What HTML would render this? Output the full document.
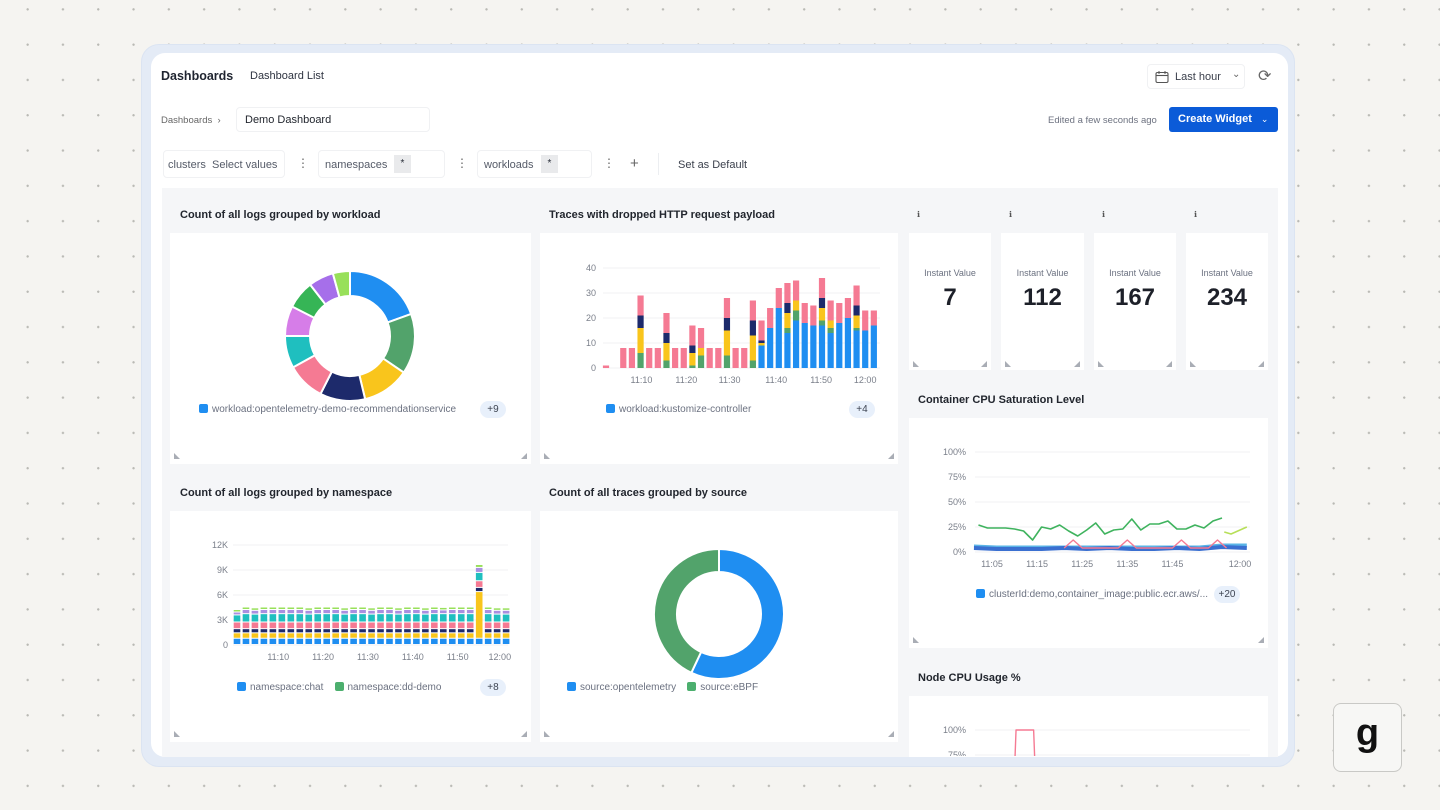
<!DOCTYPE html>
<html><head><meta charset="utf-8">
<style>
*{box-sizing:border-box;margin:0;padding:0}
body{width:1440px;height:810px;overflow:hidden;background:#f5f4f1;font-family:"Liberation Sans",sans-serif;color:#1f2430;position:relative}
.abs{position:absolute}
.dots{position:absolute;inset:0;background-image:radial-gradient(circle,#b9b9b4 1px,transparent 1.3px);background-size:35.3px 35.3px;background-position:10px 27px}
.frame{left:141px;top:44px;width:1154px;height:723px;border-radius:18px;background:#e4ebf6;border:1px solid #dbe4f2}
.card{left:151px;top:53px;width:1137px;height:704px;border-radius:14px;background:#fff;overflow:hidden}
.t{position:absolute;white-space:nowrap}
.box{position:absolute;border:1px solid #f0f1f3;border-radius:4px;background:#fff}
.grid{left:162px;top:188px;width:1116px;height:569px;background:#f5f6f8}
.white{position:absolute;background:#fff}
.ptitle{position:absolute;font-size:11px;font-weight:bold;color:#22262e}
.leg{position:absolute;font-size:10px;color:#6b7180;white-space:nowrap}
.sq{display:inline-block;width:9px;height:9px;border-radius:2px;vertical-align:-1px;margin-right:4px}
.pill{position:absolute;font-size:10px;color:#3d4452;background:#e8f0fb;border-radius:9px;width:26px;height:17px;text-align:center;line-height:17px}
.badge{position:absolute;background:#e9eaec;font-size:10px;width:17px;height:18px;text-align:center;line-height:18px;top:155px}
.num{position:absolute;text-align:center;font-size:24px;font-weight:bold;color:#1d2029;top:284px}
</style></head><body>
<div class="dots"></div>
<div class="abs frame"></div>
<div class="abs card"></div>

<div class="t" style="left:161px;top:69px;font-size:12.5px;font-weight:bold">Dashboards</div>
<div class="t" style="left:250px;top:70px;font-size:11px;color:#2e3340">Dashboard List</div>
<div class="box" style="left:1147px;top:64px;width:98px;height:25px">
<svg class="abs" style="left:7px;top:5px" width="14" height="14" viewBox="0 0 14 14"><rect x="1" y="2.5" width="12" height="10" rx="1.5" fill="none" stroke="#555" stroke-width="1.1"/><line x1="1" y1="5.5" x2="13" y2="5.5" stroke="#555" stroke-width="1.1"/><line x1="4" y1="1" x2="4" y2="4" stroke="#555"/><line x1="10" y1="1" x2="10" y2="4" stroke="#555"/></svg>
<span class="t" style="left:27px;top:6px;font-size:11px;color:#3b404c">Last hour</span>
<span class="t" style="left:84px;top:4px;font-size:10px;color:#666">⌄</span></div>
<div class="t" style="left:1258px;top:66px;font-size:16px;color:#666">⟳</div>

<div class="t" style="left:161px;top:115px;font-size:9.5px;color:#666">Dashboards &nbsp;›</div>
<div class="box" style="left:236px;top:107px;width:194px;height:25px"><span class="t" style="left:8px;top:6px;font-size:11px;color:#22262e">Demo Dashboard</span></div>
<div class="t" style="left:1048px;top:115px;font-size:9.5px;color:#6d7280">Edited a few seconds ago</div>
<div class="abs" style="left:1169px;top:107px;width:109px;height:25px;background:#0b5bd8;border-radius:3px;color:#fff;font-size:11px;font-weight:bold;line-height:25px;padding-left:9px">Create Widget <span style="font-weight:normal;font-size:9px;margin-left:6px">⌄</span></div>

<div class="box" style="left:163px;top:150px;width:122px;height:28px"><span class="t" style="left:4px;top:8px;font-size:11px;color:#555b68">clusters &nbsp;Select values</span></div>
<div class="t" style="left:297px;top:156px;font-size:12px;color:#666">⋮</div>
<div class="box" style="left:318px;top:150px;width:127px;height:28px"><span class="t" style="left:6px;top:8px;font-size:11px;color:#555b68">namespaces</span></div>
<div class="badge" style="left:394px">*</div>
<div class="t" style="left:456px;top:156px;font-size:12px;color:#666">⋮</div>
<div class="box" style="left:477px;top:150px;width:115px;height:28px"><span class="t" style="left:6px;top:8px;font-size:11px;color:#555b68">workloads</span></div>
<div class="badge" style="left:541px">*</div>
<div class="t" style="left:603px;top:156px;font-size:12px;color:#666">⋮</div>
<div class="t" style="left:630px;top:155px;font-size:15px;color:#666">+</div>
<div class="abs" style="left:658px;top:153px;width:1px;height:22px;background:#eceef1"></div>
<div class="t" style="left:678px;top:159px;font-size:11px;color:#3b404c">Set as Default</div>

<div class="abs grid"></div>
<div class="white" style="left:170px;top:233px;width:361px;height:231px"></div>
<div class="white" style="left:540px;top:233px;width:358px;height:231px"></div>
<div class="white" style="left:909px;top:233px;width:82px;height:137px"></div>
<div class="white" style="left:1001px;top:233px;width:83px;height:137px"></div>
<div class="white" style="left:1094px;top:233px;width:82px;height:137px"></div>
<div class="white" style="left:1186px;top:233px;width:82px;height:137px"></div>
<div class="white" style="left:909px;top:418px;width:359px;height:230px"></div>
<div class="white" style="left:170px;top:511px;width:361px;height:231px"></div>
<div class="white" style="left:540px;top:511px;width:358px;height:231px"></div>
<div class="white" style="left:909px;top:696px;width:359px;height:61px"></div>

<div class="ptitle" style="left:180px;top:209px">Count of all logs grouped by workload</div>
<div class="ptitle" style="left:549px;top:209px">Traces with dropped HTTP request payload</div>
<div class="ptitle" style="left:180px;top:487px">Count of all logs grouped by namespace</div>
<div class="ptitle" style="left:549px;top:487px">Count of all traces grouped by source</div>
<div class="ptitle" style="left:918px;top:394px">Container CPU Saturation Level</div>
<div class="ptitle" style="left:918px;top:672px">Node CPU Usage %</div>

<div class="t" style="left:917px;top:210px;font-size:8px;color:#555">ℹ</div>
<div class="t" style="left:1009px;top:210px;font-size:8px;color:#555">ℹ</div>
<div class="t" style="left:1102px;top:210px;font-size:8px;color:#555">ℹ</div>
<div class="t" style="left:1194px;top:210px;font-size:8px;color:#555">ℹ</div>
<div class="t" style="left:909px;top:268px;width:82px;text-align:center;font-size:9px;color:#6b7180">Instant Value</div>
<div class="t" style="left:1001px;top:268px;width:83px;text-align:center;font-size:9px;color:#6b7180">Instant Value</div>
<div class="t" style="left:1094px;top:268px;width:82px;text-align:center;font-size:9px;color:#6b7180">Instant Value</div>
<div class="t" style="left:1186px;top:268px;width:82px;text-align:center;font-size:9px;color:#6b7180">Instant Value</div>
<div class="num" style="left:909px;width:82px">7</div>
<div class="num" style="left:1001px;width:83px">112</div>
<div class="num" style="left:1094px;width:82px">167</div>
<div class="num" style="left:1186px;width:82px">234</div>

<div class="leg" style="left:199px;top:404px"><span class="sq" style="background:#1f8ef1"></span>workload:opentelemetry-demo-recommendationservice</div>
<div class="pill" style="left:480px;top:401px">+9</div>
<div class="leg" style="left:606px;top:404px"><span class="sq" style="background:#1f8ef1"></span>workload:kustomize-controller</div>
<div class="pill" style="left:849px;top:401px">+4</div>
<div class="leg" style="left:237px;top:682px"><span class="sq" style="background:#1f8ef1"></span>namespace:chat &nbsp;&nbsp; <span class="sq" style="background:#4caf6e"></span>namespace:dd-demo</div>
<div class="pill" style="left:480px;top:679px">+8</div>
<div class="leg" style="left:567px;top:682px"><span class="sq" style="background:#1f8ef1"></span>source:opentelemetry &nbsp;&nbsp; <span class="sq" style="background:#4caf6e"></span>source:eBPF</div>
<div class="leg" style="left:976px;top:589px"><span class="sq" style="background:#1f8ef1"></span>clusterId:demo,container_image:public.ecr.aws/...</div>
<div class="pill" style="left:1214px;top:586px">+20</div>

<div class="abs" style="left:1333px;top:703px;width:69px;height:69px;border:1px solid #c9c9c6;border-radius:8px;background:#f7f7f5;text-align:center;font-size:38px;font-weight:bold;line-height:58px;color:#111">g</div>

<svg id="charts" class="abs" style="left:0;top:0" width="1440" height="810">
<defs><clipPath id="cardclip"><rect x="151" y="53" width="1137" height="703"/></clipPath></defs>
</svg>

<script>
// ---- workload donut ----
const wlCats=['recommendationservice','w2','w3','w4','w5','w6','w7','w8','w9','w10'];
const wlVals=[78,60,47,45,38,32,30,28,25,17];
const wlColors=['#1f8ef1','#52a36b','#f9c51c','#1d2a6b','#f57a93','#1fbfbf','#d67de8','#36b556','#a66fea','#98e05a'];
// ---- source donut ----
const srcCats=['opentelemetry','eBPF'];
const srcVals=[57,43];
const srcColors=['#1f8ef1','#52a36b'];
// ---- dropped traces stacked bars (32 slots) ----
const trBlue  =[0,0,0,0,0,0,0,0,0,0,0,0,0,0,0,0,0,0,9,16,24,14,19,18,17,17,14,18,20,15,15,17];
const trGreen =[0,0,0,0,6,0,0,3,0,0,1,5,0,0,5,0,0,3,0,0,0,2,4,0,0,2,2,0,0,1,0,0];
const trYellow=[0,0,0,0,10,0,0,7,0,0,5,3,0,0,10,0,0,10,1,0,0,6,4,0,0,5,3,0,0,5,0,0];
const trNavy  =[0,0,0,0,5,0,0,4,0,0,3,0,0,0,5,0,0,6,1,0,0,4,0,0,0,4,0,0,0,4,0,0];
const trPink  =[1,0,8,8,8,8,8,8,8,8,8,8,8,8,8,8,8,8,8,8,8,8,8,8,8,8,8,8,8,8,8,6];
const trYTicks=[0,10,20,30,40];
const trXTickLabels=['11:10','11:20','11:30','11:40','11:50','12:00'];
const trXTickSlots=[4.1,9.3,14.3,19.7,24.9,30];
// ---- namespace stacked bars (31 bars) ----
const nsBlue  =[750,750,750,750,750,750,750,750,750,750,750,750,750,750,750,750,750,750,750,750,750,750,750,750,750,750,750,750,750,750,750];
const nsYellow=[650,650,650,650,650,650,650,650,650,650,650,650,650,650,650,650,650,650,650,650,650,650,650,650,650,650,650,5600,650,650,650];
const nsNavy  =[500,500,500,500,500,500,500,500,500,500,500,500,500,500,500,500,500,500,500,500,500,500,500,500,500,500,500,500,500,500,500];
const nsPink  =[800,800,800,800,800,800,800,800,800,800,800,800,800,800,800,800,800,800,800,800,800,800,800,800,800,800,800,800,800,800,800];
const nsTeal  =[850,1000,950,1000,1000,1000,1000,1000,950,1000,1000,1000,950,1000,1000,950,1000,1000,950,1000,1000,950,1000,1000,1000,1000,1000,1000,1000,950,950];
const nsViolet=[350,500,450,500,500,500,500,500,450,500,500,500,450,500,500,450,500,500,450,500,500,450,500,450,500,500,500,600,500,450,450];
const nsGreen =[300,300,300,300,300,300,300,300,300,300,300,300,300,300,300,300,300,300,300,300,300,300,300,300,300,300,300,350,300,300,300];
const nsYTicks=[0,3000,6000,9000,12000];
const nsYTickLabels=['0','3K','6K','9K','12K'];
const nsXTickLabels=['11:10','11:20','11:30','11:40','11:50','12:00'];
const nsXTickIdx=[4.6,9.6,14.6,19.6,24.6,29.3];
// ---- CPU saturation lines (minutes after 11:00) ----
const cpuGreenMin=[2,4,6,8,10,12,14,16,18,20,22,24,26,28,30,32,34,36,38,40,42,44,46,48,50,52,54,56];
const cpuGreenVal=[27,24,24,24,23,21,12,25,23,27,21,16,22,29,18,22,23,33,22,28,28,31,23,23,27,24,31,34];
const cpuLimeMin=[56.5,58,60,61.5];
const cpuLimeVal=[20,18,22,25];
const cpuBlueMin=[1,6,11,16,21,26,31,36,41,46,51,56,61.5];
const cpuBlueVal=[4,3,3,3,4,3,4,3,3,4,3,5,4];
const cpuTealVal=[6,5,5,5,5,5,5,5,5,5,5,7,7];
const cpuPinkMin=[21,23,25,27,33,35,37,45,47,49,53,55,57];
const cpuPinkVal=[4,12,4,4,4,12,4,4,12,4,4,12,4];
const cpuYTicks=[0,25,50,75,100];
const cpuXTickLabels=['11:05','11:15','11:25','11:35','11:45','12:00'];
const cpuXTickMin=[5,15,25,35,45,60];
// ---- node CPU ----
const nodeMin=[1,9.6,10.1,14,14.5,20,60];
const nodeVal=[40,40,100,100,40,40,40];
const nodeYTicks=[100,75];

const svg=document.getElementById('charts');
const NS='http://www.w3.org/2000/svg';
function mk(tag,attrs,parent){const e=document.createElementNS(NS,tag);for(const k in attrs)e.setAttribute(k,attrs[k]);(parent||svg).appendChild(e);return e;}
function txt(x,y,s,anchor,parent){const e=mk('text',{x:x,y:y,'font-size':'9','fill':'#7a7f8a','text-anchor':anchor||'middle','font-family':'Liberation Sans, sans-serif'},parent);e.textContent=s;return e;}

function donut(cx,cy,ro,ri,vals,colors,name){
  const g=mk('g',{});
  
  
  const tot=vals.reduce((a,b)=>a+b,0);let a0=0;
  vals.forEach((v,i)=>{const a1=a0+v/tot*2*Math.PI;
    const p=(r,a)=>[cx+r*Math.sin(a),cy-r*Math.cos(a)];
    const [x1,y1]=p(ro,a0),[x2,y2]=p(ro,a1),[x3,y3]=p(ri,a1),[x4,y4]=p(ri,a0);const lg=(a1-a0)>Math.PI?1:0;
    const path=mk('path',{d:`M${x1},${y1}A${ro},${ro} 0 ${lg} 1 ${x2},${y2}L${x3},${y3}A${ri},${ri} 0 ${lg} 0 ${x4},${y4}Z`,fill:colors[i],stroke:'#fff','stroke-width':'2'},g);
    
    
    a0=a1;});
}
donut(350,336,65,40,wlVals,wlColors,'workload-donut');
donut(719,614,65,42,srcVals,srcColors,'source-donut');

function stacked(series,colors,x0,step,bw,yZero,yScale,name,gap){
  const g=mk('g',{});
  
  
  const n=series[0].length;
  for(let i=0;i<n;i++){let acc=0;const x=x0+i*step-bw/2;
    series.forEach((s,k)=>{const v=s[i];if(!v)return;const y1=yScale(acc),y2=yScale(acc+v);
      const r=mk('rect',{x:x,y:y2,width:bw,height:Math.max(0,y1-y2-gap),fill:colors[k]},g);
      
      
      acc+=v;});}
}
const trY=v=>368-v*2.5, trX=i=>606+i*8.64;
trYTicks.forEach(t=>{mk('line',{x1:603,x2:880,y1:trY(t),y2:trY(t),stroke:'#f0f1f3'});txt(596,trY(t)+3,String(t),'end');});
trXTickLabels.forEach((l,i)=>txt(trX(trXTickSlots[i]),383,l));
stacked([trBlue,trGreen,trYellow,trNavy,trPink],['#1f8ef1','#52a36b','#f9c51c','#1d2a6b','#f57a93'],606,8.64,6.2,368,trY,'dropped-traces-bars',0);
const nsY=v=>645-v/12000*100, nsX=i=>237+i*8.97;
nsYTicks.forEach((t,i)=>{mk('line',{x1:233,x2:508,y1:nsY(t),y2:nsY(t),stroke:'#f0f1f3'});txt(228,nsY(t)+3,nsYTickLabels[i],'end');});
nsXTickLabels.forEach((l,i)=>txt(nsX(nsXTickIdx[i]),660,l));
stacked([nsBlue,nsYellow,nsNavy,nsPink,nsTeal,nsViolet,nsGreen],['#1f8ef1','#f9c51c','#1d2a6b','#f57a93','#1fbfbf','#a98fe0','#98e05a'],237,8.97,6.6,645,nsY,'namespace-bars',1);
const cpuY=v=>552-v, cpuX=m=>992+(m-5)*4.51;
cpuYTicks.forEach(t=>{mk('line',{x1:975,x2:1250,y1:cpuY(t),y2:cpuY(t),stroke:'#f0f1f3'});txt(966,cpuY(t)+3,t+'%','end');});
cpuXTickLabels.forEach((l,i)=>txt(cpuX(cpuXTickMin[i]),567,l));
function line(xs,ys,xf,yf,color,w,name,parent){const l=mk('polyline',{points:xs.map((x,i)=>xf(x)+','+yf(ys[i])).join(' '),fill:'none',stroke:color,'stroke-width':w,'stroke-linejoin':'round'},parent);
  
  }
line(cpuBlueMin,cpuTealVal,cpuX,cpuY,'#5ab4e6',3,'cpu-teal-line');
line(cpuBlueMin,cpuBlueVal,cpuX,cpuY,'#3a6fd0',4,'cpu-blue-line');
line(cpuPinkMin,cpuPinkVal,cpuX,cpuY,'#f57a93',1.4,'cpu-pink-line');
line(cpuGreenMin,cpuGreenVal,cpuX,cpuY,'#3fb35e',1.6,'cpu-green-line');
line(cpuLimeMin,cpuLimeVal,cpuX,cpuY,'#b7df58',1.6,'cpu-lime-line');
const ng=mk('g',{'clip-path':'url(#cardclip)'});
const nodeY=v=>730+(100-v), nodeX=m=>975+(m-1)*4.51;
nodeYTicks.forEach(t=>{mk('line',{x1:975,x2:1250,y1:nodeY(t),y2:nodeY(t),stroke:'#f0f1f3'},ng);txt(966,nodeY(t)+3,t+'%','end',ng);});
line(nodeMin,nodeVal,nodeX,nodeY,'#f57a93',1.4,'node-cpu-line',ng);
[[176,458],[525,458],[546,458],[892,458],[915,366],[985,366],[1007,366],[1078,366],[1100,366],[1170,366],[1192,366],[1262,366],[915,642],[1262,642],[176,736],[525,736],[546,736],[892,736]].forEach(([x,y],i)=>{
  const left=(i%2===0);
  const p=mk('path',{d:left?`M${x-2},${y-5}L${x-2},${y+1}L${x+4},${y+1}Z`:`M${x+2},${y-5}L${x+2},${y+1}L${x-4},${y+1}Z`,fill:'#a9adb5'});
  
  
});
</script>
</body></html>
